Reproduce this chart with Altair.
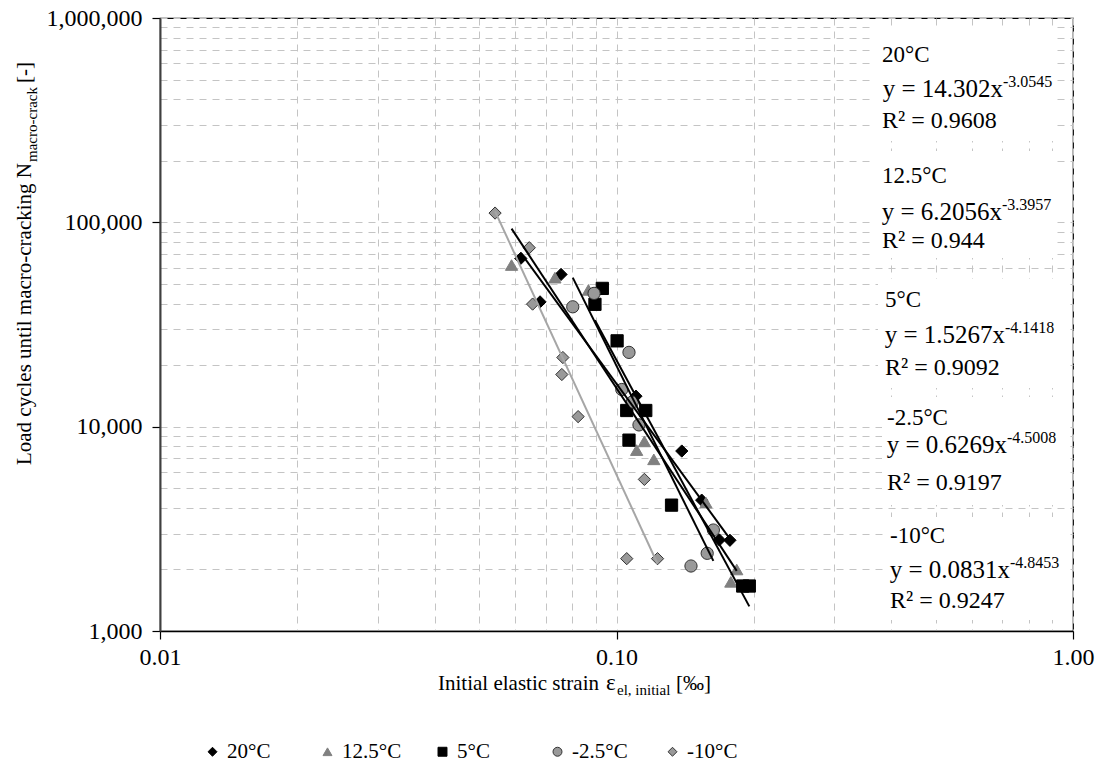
import altair as alt
import pandas as pd

# ---------------- data ----------------
series_order = ["20°C", "12.5°C", "5°C", "-2.5°C", "-10°C"]

strain_20 = [0.0617, 0.0756, 0.0680, 0.1103, 0.1390, 0.1537, 0.1680, 0.1772]
cycles_20 = [66600, 55600, 40800, 14100, 7600, 4370, 2790, 2780]

strain_125 = [0.0589, 0.0733, 0.0868, 0.1151, 0.1107, 0.1207, 0.1570, 0.1834, 0.1780]
cycles_125 = [61800, 53600, 46700, 8470, 7680, 6920, 4250, 2000, 1740]

strain_5 = [0.0931, 0.0897, 0.1003, 0.1053, 0.1159, 0.1065, 0.1320, 0.1890, 0.1954]
cycles_5 = [47500, 39700, 26300, 12000, 12000, 8590, 4130, 1660, 1660]

strain_m25 = [0.0893, 0.0802, 0.1065, 0.1027, 0.1083, 0.1120, 0.1630, 0.1580, 0.1456]
cycles_m25 = [44900, 38600, 23100, 15200, 13200, 10200, 3120, 2400, 2080]

strain_m10 = [0.0542, 0.0644, 0.0655, 0.0763, 0.0759, 0.0824, 0.1151, 0.1053, 0.1230]
cycles_m10 = [111000, 75100, 39800, 21800, 18000, 11200, 5520, 2260, 2260]

coef_a = ["14.302", "6.2056", "1.5267", "0.6269", "0.0831"]
coef_b = ["-3.0545", "-3.3957", "-4.1418", "-4.5008", "-4.8453"]
r_squared = ["0.9608", "0.944", "0.9092", "0.9197", "0.9247"]

x_major = [0.01, 0.1, 1]
y_major = [1000, 10000, 100000, 1000000]

# ---------------- layout / style ----------------
FONT = "Liberation Serif"
OX, OY = 160, 18
W, H = 913, 613
TOTAL_W, TOTAL_H = 1097, 771

shapes = ["diamond", "triangle-up", "square", "circle", "diamond"]
fills = ["#000000", "#808080", "#000000", "#999999", "#999999"]
strokes = ["#000000", "#808080", "#000000", "#333333", "#333333"]


def px(x):
    return x - OX


def py(y):
    return y - OY


def one():
    return alt.Chart(pd.DataFrame({"k": [0]}))


def text(t, x, y, size, align="left", angle=None):
    kw = dict(text=t, font=FONT, fontSize=size, align=align,
              baseline="alphabetic", color="#000000")
    if angle is not None:
        kw["angle"] = angle
    return one().mark_text(**kw).encode(x=alt.value(px(x)), y=alt.value(py(y)))


def box(x1, x2, y1, y2):
    return one().mark_rect(color="white").encode(
        x=alt.value(px(x1)), x2=alt.value(px(x2)),
        y=alt.value(py(y1)), y2=alt.value(py(y2)))


# ---------------- tables ----------------
all_x = [strain_20, strain_125, strain_5, strain_m25, strain_m10]
all_y = [cycles_20, cycles_125, cycles_5, cycles_m25, cycles_m10]

rows = []
for s, xs, ys in zip(series_order, all_x, all_y):
    for a, b in zip(xs, ys):
        rows.append({"series": s, "x": a, "y": b})
pts = pd.DataFrame(rows)

lrows = []
for s, xs, a, b in zip(series_order, all_x, coef_a, coef_b):
    for xv in (min(xs), max(xs)):
        lrows.append({"series": s, "x": xv, "a": float(a), "b": float(b)})
trend = pd.DataFrame(lrows)

x_vals = [round(m * 10.0 ** e, 10) for e in (-2, -1) for m in range(1, 10)] + [1]
y_vals = [m * 10 ** e for e in (3, 4, 5) for m in range(1, 10)] + [1000000]

x_test = "indexof([0.01, 0.1, 1], datum.value) >= 0"
y_test = "indexof([1000, 10000, 100000, 1000000], datum.value) >= 0"

common_axis = dict(
    grid=True, gridDash=[7, 6], gridColor="#c4c4c4", gridWidth=1,
    tickSize=8, tickColor="#000000", tickWidth=1.2,
    labelFont=FONT, labelColor="#000000", labelOverlap=False,
    labelFlush=False, title=None,
)

x_axis = alt.Axis(values=x_vals,
                  labelExpr=f"{x_test} ? format(datum.value, '.2f') : ''",
                  tickOpacity={"condition": {"test": x_test, "value": 1}, "value": 0},
                  domainColor="#000000", domainWidth=1.5,
                  labelFontSize=24, labelPadding=6, **common_axis)
y_axis = alt.Axis(values=y_vals,
                  labelExpr=f"{y_test} ? format(datum.value, ',') : ''",
                  tickOpacity={"condition": {"test": y_test, "value": 1}, "value": 0},
                  domainColor="#404040", domainWidth=2,
                  labelFontSize=24, labelPadding=10, **common_axis)

x_enc = alt.X("x:Q", scale=alt.Scale(type="log", domain=[0.01, 1], nice=False), axis=x_axis)
y_enc = alt.Y("y:Q", scale=alt.Scale(type="log", domain=[1000, 1000000], nice=False), axis=y_axis)

leg = alt.Legend(title=None, orient="none", legendX=42, legendY=723,
                 direction="horizontal", columns=5, gridAlign="all",
                 columnPadding=30, labelFont=FONT, labelFontSize=21,
                 labelColor="#000000", symbolSize=80, symbolStrokeWidth=1,
                 labelOffset=4)

points = alt.Chart(pts).mark_point(filled=True, size=150, strokeWidth=1, opacity=1).encode(
    x=x_enc, y=y_enc,
    shape=alt.Shape("series:N", scale=alt.Scale(domain=series_order, range=shapes), legend=leg),
    fill=alt.Fill("series:N", scale=alt.Scale(domain=series_order, range=fills), legend=leg),
    stroke=alt.Stroke("series:N", scale=alt.Scale(domain=series_order, range=strokes), legend=leg),
)

lines = alt.Chart(trend).transform_calculate(
    y="datum.a * pow(datum.x, datum.b)"
).mark_line(strokeWidth=2).encode(
    x=x_enc, y=y_enc, detail="series:N",
    color=alt.condition(alt.datum.series == "-10°C", alt.value("#a6a6a6"), alt.value("#000000")),
)

layers = []
# white backgrounds behind the equation blocks
box_geo = [(875, 1055, 27, 141), (875, 1055, 151, 258), (878, 1065, 279, 388),
           (882, 1066, 397, 505), (885, 1067, 517, 620)]
for g in box_geo:
    layers.append(box(*g))

layers.append(points)
layers.append(lines)

# equation annotations
lab_x = [882, 882, 885, 887, 890]
lab_y = [62, 183, 307, 425, 543]
eq_y = [97, 220, 343, 453, 578]
r2_y = [128, 248, 375, 490, 608]
sup_x = [1003, 1002, 1005, 1007, 1010]
for i, s in enumerate(series_order):
    layers.append(text(s, lab_x[i], lab_y[i], 23))
    layers.append(text(f"y = {coef_a[i]}x", sup_x[i], eq_y[i], 25, align="right"))
    layers.append(text(coef_b[i], sup_x[i], eq_y[i] - 10, 16))
    layers.append(text(f"R² = {r_squared[i]}", lab_x[i], r2_y[i], 24))

# x axis title
layers.append(text("Initial elastic strain", 599, 690, 21, align="right"))
layers.append(text("ε", 606, 690, 23))
layers.append(text("el, initial", 617, 695, 15))
layers.append(text("[‰]", 676, 690, 21))

# y axis title (rotated)
layers.append(text("Load cycles until macro-cracking N", 31, 163, 21, align="right", angle=270))
layers.append(text("macro-crack", 37, 162, 15, angle=270))
layers.append(text("[-]", 31, 83, 21, angle=270))

chart = alt.layer(*layers).properties(
    width=W, height=H,
    padding={"left": OX, "top": OY, "right": TOTAL_W - OX - W, "bottom": TOTAL_H - OY - H},
    autosize=alt.AutoSizeParams(type="none"),
    background="white",
).configure_view(stroke="#000000", strokeWidth=1.2)

chart.save("out.html", embed_options={"renderer": "svg", "actions": False})
